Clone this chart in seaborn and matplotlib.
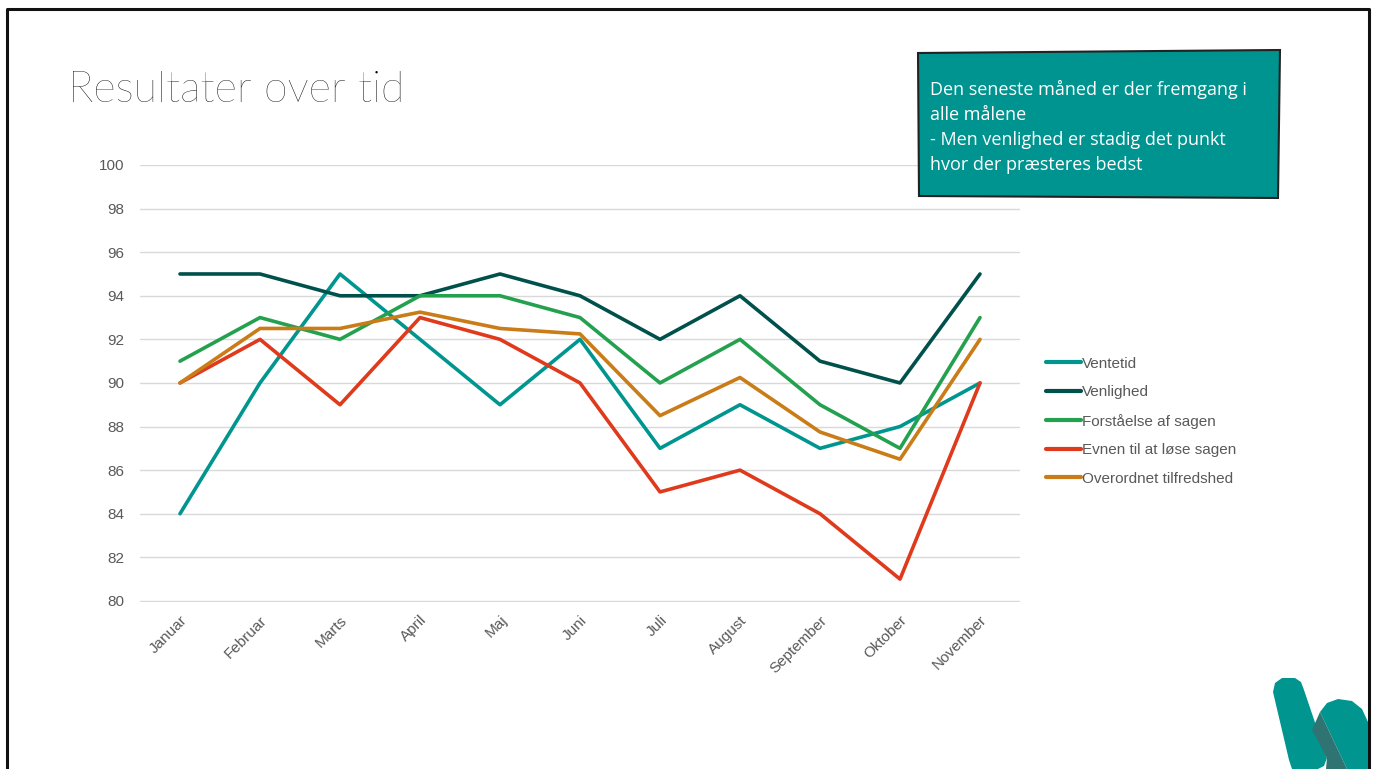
import numpy as np
import pandas as pd
import seaborn as sns
import matplotlib.pyplot as plt
from matplotlib.patches import Polygon
from matplotlib.lines import Line2D

# data
months = ["Januar", "Februar", "Marts", "April", "Maj", "Juni", "Juli",
          "August", "September", "Oktober", "November"]
ventetid = [84, 90, 95, 92, 89, 92, 87, 89, 87, 88, 90]
venlighed = [95, 95, 94, 94, 95, 94, 92, 94, 91, 90, 95]
forstaaelse = [91, 93, 92, 94, 94, 93, 90, 92, 89, 87, 93]
evnen = [90, 92, 89, 93, 92, 90, 85, 86, 84, 81, 90]
overordnet = [90, 92.5, 92.5, 93.25, 92.5, 92.25, 88.5, 90.25, 87.75, 86.5, 92]

series_names = ["Ventetid", "Venlighed", "Forståelse af sagen",
                "Evnen til at løse sagen", "Overordnet tilfredshed"]
series_colors = ["#00968f", "#00514b", "#24a14f", "#e03a1c", "#c97c17"]
y_ticks = [80, 82, 84, 86, 88, 90, 92, 94, 96, 98, 100]

title_text = "Resultater over tid"
note_text = ("Den seneste måned er der fremgang i\nalle målene\n"
             "- Men venlighed er stadig det punkt\nhvor der præsteres bedst")

df = pd.DataFrame({
    "month": months * 5,
    "pos": list(range(len(months))) * 5,
    "serie": sum([[n] * len(months) for n in series_names], []),
    "value": ventetid + venlighed + forstaaelse + evnen + overordnet,
})

sns.set_theme(style="white")
plt.rcParams["font.family"] = ["Liberation Sans", "DejaVu Sans"]

W, H = 1376, 769
fig = plt.figure(figsize=(W / 100, H / 100), dpi=100)
ax = fig.add_axes([140 / W, 1 - 602 / H, 880 / W, 437 / H])


def fpoly(pts, **kw):
    # polygon in slide pixel coords (origin top-left)
    p = Polygon([(x / W, 1 - y / H) for x, y in pts], closed=True,
                transform=fig.transFigure, **kw)
    fig.add_artist(p)
    return p


sns.lineplot(data=df, x="pos", y="value", hue="serie", hue_order=series_names,
             palette=series_colors, linewidth=2.6, ax=ax, legend=False,
             sort=False)

ax.set_xlim(-0.5, len(months) - 0.5)
ax.set_ylim(79.95, 100)
ax.set_yticks(y_ticks)
ax.set_yticklabels([str(t) for t in y_ticks])
ax.set_xticks(range(len(months)))
ax.set_xticklabels(months, rotation=45, ha="right", rotation_mode="anchor")
ax.tick_params(axis="both", colors="#595959", labelsize=11, length=0)
ax.tick_params(axis="y", pad=11)
ax.tick_params(axis="x", pad=8)
ax.yaxis.grid(True, color="#d9d9d9", linewidth=1)
ax.xaxis.grid(False)
for s in ax.spines.values():
    s.set_visible(False)
ax.set_xlabel("")
ax.set_ylabel("")
ax.set_axisbelow(True)

handles = [Line2D([], [], color=c, linewidth=3) for c in series_colors]
leg = fig.legend(handles, series_names, loc="upper left",
                 bbox_to_anchor=(1032 / W, 1 - 343 / H), frameon=False,
                 fontsize=11, handlelength=2.3, handletextpad=0.1,
                 labelspacing=0.95)
for t in leg.get_texts():
    t.set_color("#595959")

# title
fig.text(68 / W, 1 - 90 / H, title_text, fontsize=31, family=["Lato", "DejaVu Sans"],
         fontweight="light", color="#000000", va="center", ha="left")

# note box
fpoly([(918, 53), (1280, 50), (1278, 198), (919, 196)],
      facecolor="#009490", edgecolor="#222222", linewidth=1.5)
fig.text(930 / W, 1 - 80 / H, note_text, fontsize=13, color="white",
         family=["Open Sans", "DejaVu Sans"], va="top", ha="left",
         linespacing=1.5)

# slide frame
frame = Line2D([7 / W, 7 / W, 1369 / W, 1369 / W],
               [0, 1 - 9 / H, 1 - 9 / H, 0], transform=fig.transFigure,
               color="#111111", linewidth=2.2)
fig.add_artist(frame)

# logo
fpoly([(1273, 692), (1275, 683), (1282, 678), (1295, 678), (1301, 682),
       (1304, 690), (1327, 758), (1324, 766), (1318, 769), (1292, 769),
       (1289, 760)], facecolor="#00968f", edgecolor="none")
fpoly([(1320, 712), (1327, 703), (1338, 699), (1352, 701), (1362, 709),
       (1368, 722), (1368, 769), (1347, 769)],
      facecolor="#00968f", edgecolor="none")
fpoly([(1320, 712), (1347, 769), (1326, 769), (1327, 758), (1312, 730)],
      facecolor="#2f7472", edgecolor="none")

fig.savefig("out.png", dpi=100)
